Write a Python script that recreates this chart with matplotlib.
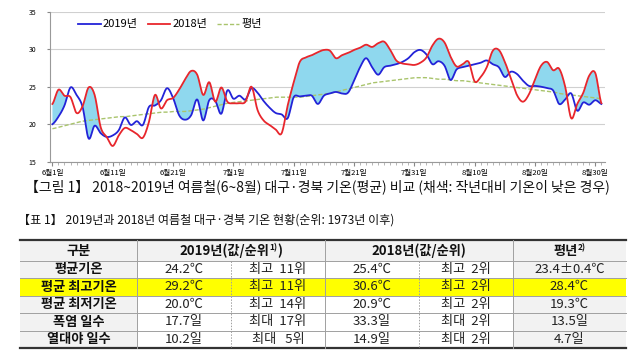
import numpy as np
import matplotlib
matplotlib.use('Agg')
import matplotlib.pyplot as plt
from matplotlib.lines import Line2D
from matplotlib.patches import Rectangle

plt.rcParams['font.family'] = ['Noto Sans CJK KR', 'DejaVu Sans']

#%% data (daily mean temperature, Jun 1 - Aug 31)

t2019 = [20.0, 21.0, 22.5, 24.9, 23.9, 22.3, 18.1, 19.8, 18.8, 18.3,
         18.5, 19.2, 20.9, 19.9, 20.4, 19.9, 22.3, 22.5, 23.2, 24.8,
         23.5, 21.2, 20.6, 21.2, 23.3, 20.5, 23.2, 23.1, 21.4, 24.5,
         23.4, 23.8, 23.3, 24.8, 24.2, 23.1, 22.2, 21.5, 21.3, 20.8,
         23.6, 23.7, 23.8, 23.8, 22.7, 23.8, 24.1, 24.3, 24.1, 24.2,
         25.8, 27.6, 28.8, 27.6, 26.6, 27.6, 27.8, 28.0, 28.3, 28.8,
         29.6, 29.9, 29.3, 28.0, 28.4, 27.8, 25.9, 27.3, 27.6, 27.8,
         28.0, 28.2, 28.5, 28.0, 27.6, 26.3, 27.0, 26.7, 25.8, 25.1,
         25.1, 25.0, 24.8, 24.5, 22.7, 23.3, 24.1, 21.8, 22.9, 22.6,
         23.2, 22.7]

t2018 = [22.7, 24.6, 23.8, 23.6, 21.5, 22.4, 24.9, 23.9, 19.6, 18.3,
         17.1, 18.5, 19.5, 19.2, 18.7, 18.2, 20.3, 23.9, 22.1, 23.2,
         23.5, 24.6, 26.0, 27.1, 26.6, 23.9, 25.6, 23.0, 24.9, 23.0,
         22.8, 22.8, 23.0, 25.0, 21.9, 20.5, 19.9, 19.3, 18.8, 22.5,
         25.6, 28.3, 28.9, 29.2, 29.6, 29.9, 29.8, 28.8, 29.2, 29.5,
         29.9, 30.2, 30.6, 30.3, 30.8, 31.0, 29.9, 28.5, 28.1, 28.0,
         27.9, 28.2, 28.9, 30.5, 31.4, 30.9, 29.0, 27.7, 28.0, 28.3,
         25.7, 26.3, 27.6, 29.8, 29.9, 28.3, 26.1, 23.9, 23.0, 24.0,
         26.0, 27.8, 28.3, 27.2, 27.4, 25.0, 20.8, 22.7, 24.2, 26.5,
         26.8, 22.8]

normal = [19.4, 19.6, 19.8, 20.0, 20.2, 20.4, 20.5, 20.6, 20.7, 20.8,
          20.9, 21.0, 21.0, 21.1, 21.2, 21.3, 21.4, 21.5, 21.6, 21.6,
          21.7, 21.7, 21.7, 21.8, 21.9, 22.0, 22.2, 22.4, 22.6, 22.8,
          22.9, 23.0, 23.1, 23.2, 23.3, 23.4, 23.5, 23.6, 23.6, 23.6,
          23.6, 23.6, 23.7, 23.8, 23.9, 24.0, 24.1, 24.3, 24.5, 24.7,
          24.9, 25.1, 25.3, 25.5, 25.6, 25.7, 25.8, 25.9, 26.0, 26.1,
          26.2, 26.2, 26.2, 26.1, 26.0, 26.0, 25.9, 25.8, 25.8, 25.7,
          25.6, 25.5, 25.4, 25.3, 25.2, 25.1, 25.0, 24.9, 24.8, 24.7,
          24.6, 24.5, 24.4, 24.3, 24.1, 24.0, 23.9, 23.8, 23.7, 23.6,
          23.5, 23.4]

xlabels = ['6월1일', '6월11일', '6월21일', '7월1일', '7월11일',
           '7월21일', '7월31일', '8월10일', '8월20일', '8월30일']

caption = '【그림 1】 2018~2019년 여름철(6~8월) 대구·경북 기온(평균) 비교 (채색: 작년대비 기온이 낮은 경우)'
tab_title = '【표 1】 2019년과 2018년 여름철 대구·경북 기온 현황(순위: 1973년 이후)'

row_names = ['평균기온', '평균 최고기온', '평균 최저기온', '폭염 일수', '열대야 일수']
val2019 = ['24.2℃', '29.2℃', '20.0℃', '17.7일', '10.2일']
rank2019 = ['최고  11위', '최고  11위', '최고  14위', '최대  17위', '최대   5위']
val2018 = ['25.4℃', '30.6℃', '20.9℃', '33.3일', '14.9일']
rank2018 = ['최고  2위', '최고  2위', '최고  2위', '최대  2위', '최대  2위']
val_normal = ['23.4±0.4℃', '28.4℃', '19.3℃', '13.5일', '4.7일']


def smooth(y, n=12):
    # catmull-rom like the excel smoothed line
    y = np.asarray(y, float)
    p = np.concatenate([[y[0]], y, [y[-1]]])
    xs, ys = [], []
    t = np.linspace(0, 1, n, endpoint=False)
    for i in range(len(y) - 1):
        p0, p1, p2, p3 = p[i], p[i+1], p[i+2], p[i+3]
        yy = 0.5*(2*p1 + (-p0+p2)*t + (2*p0-5*p1+4*p2-p3)*t**2 + (-p0+3*p1-3*p2+p3)*t**3)
        xs.append(i + t)
        ys.append(yy)
    xs.append([len(y)-1])
    ys.append([y[-1]])
    return np.concatenate(xs), np.concatenate(ys)


fig = plt.figure(figsize=(6.4, 3.6), dpi=100)

#%% chart
ax = fig.add_axes([50/640, 1-161.7/360, 555/640, 150/360])
x19, y19 = smooth(t2019)
x18, y18 = smooth(t2018)
xn, yn = smooth(normal)

ax.fill_between(x19, y19, y18, where=y18 > y19, interpolate=True,
                color='#8fd8ee', lw=0, zorder=1)
ax.plot(xn, yn, color='#a9c46c', lw=1.0, ls=(0, (3, 1.5)), zorder=2)
ax.plot(x19, y19, color='#2323d8', lw=1.3, zorder=3)
ax.plot(x18, y18, color='#e8262c', lw=1.3, zorder=4)

ax.set_xlim(-0.4, 91.6)
ax.set_ylim(15, 35)
ax.set_yticks([15, 20, 25, 30, 35])
ax.tick_params(axis='y', labelsize=5, length=2, color='#888888', pad=8)
ax.set_xticks(np.arange(0, 91, 10))
ax.set_xticklabels(xlabels)
ax.set_xticks(np.arange(0, 92), minor=True)
ax.tick_params(axis='x', which='major', labelsize=5.5, length=3, color='#888888', pad=2)
ax.tick_params(axis='x', which='minor', length=2, color='#aaaaaa')
ax.grid(axis='y', color='#d0d0d0', lw=0.8)
ax.set_axisbelow(True)
for s in ['top', 'right']:
    ax.spines[s].set_visible(False)
for s in ['left', 'bottom']:
    ax.spines[s].set_color('#999999')
    ax.spines[s].set_linewidth(0.8)

handles = [Line2D([], [], color='#2323d8', lw=1.3),
           Line2D([], [], color='#e8262c', lw=1.3),
           Line2D([], [], color='#a9c46c', lw=1.0, ls=(0, (3, 1.5)))]
ax.legend(handles, ['2019년', '2018년', '평년'], loc='center left',
          bbox_to_anchor=(0.041, 0.915), ncol=3, frameon=False, fontsize=8,
          handlelength=2.0, handletextpad=0.2, columnspacing=0.9, borderpad=0)

#%% captions
fig.text(25/640, 1-187/360, caption, fontsize=10, va='center', ha='left', color='#111111')
fig.text(18/640, 1-220/360, tab_title, fontsize=8.7, va='center', ha='left', color='#111111')

#%% table
tx = fig.add_axes([0, 0, 1, 1])
tx.set_xlim(0, 640)
tx.set_ylim(360, 0)
tx.axis('off')

cols = [20, 137, 231, 325, 419, 513, 626]
rows = [240, 261, 278, 295.5, 313, 330.5, 348]
gray = '#f2f2f2'

# backgrounds
tx.add_patch(Rectangle((cols[0], rows[0]), cols[-1]-cols[0], rows[1]-rows[0], color=gray, lw=0))
for i in range(5):
    y0, y1 = rows[i+1], rows[i+2]
    if i == 1:
        tx.add_patch(Rectangle((cols[0], y0), cols[-1]-cols[0], y1-y0, color='#ffff00', lw=0))
    else:
        tx.add_patch(Rectangle((cols[0], y0), cols[1]-cols[0], y1-y0, color=gray, lw=0))
        tx.add_patch(Rectangle((cols[5], y0), cols[6]-cols[5], y1-y0, color=gray, lw=0))

# lines
tx.plot([cols[0], cols[-1]], [rows[0], rows[0]], color='#333333', lw=1.6)
tx.plot([cols[0], cols[-1]], [rows[-1], rows[-1]], color='#333333', lw=1.6)
for r in rows[1:-1]:
    tx.plot([cols[0], cols[-1]], [r, r], color='#a0a0a0', lw=0.7)
for c in [cols[1], cols[3], cols[5]]:
    tx.plot([c, c], [rows[0], rows[-1]], color='#a0a0a0', lw=0.7)
for c in [cols[2], cols[4]]:
    tx.plot([c, c], [rows[1], rows[-1]], color='#a0a0a0', lw=0.7, ls=(0, (1.5, 1.5)))

fs = 9.5
rend = fig.canvas.get_renderer()


def mixed(xc, yc, parts):
    # parts: (text, size, raise in px)
    widths = []
    for s, size, dy in parts:
        t = tx.text(0, 0, s, fontsize=size, fontweight='bold')
        widths.append(t.get_window_extent(rend).width)
        t.remove()
    x = xc - sum(widths)/2
    for (s, size, dy), w in zip(parts, widths):
        tx.text(x, yc - dy, s, fontsize=size, fontweight='bold', ha='left', va='center', color='#111111')
        x += w


ym = (rows[0] + rows[1]) / 2
mixed((cols[0]+cols[1])/2, ym, [('구분', fs, 0)])
mixed((cols[1]+cols[3])/2, ym, [('2019년(값/순위', fs, 0), ('1)', 6, 3), (')', fs, 0)])
mixed((cols[3]+cols[5])/2, ym, [('2018년(값/순위)', fs, 0)])
mixed((cols[5]+cols[6])/2, ym, [('평년', fs, 0), ('2)', 6, 3)])

for i in range(5):
    yc = (rows[i+1] + rows[i+2]) / 2
    tx.text((cols[0]+cols[1])/2, yc, row_names[i], fontsize=fs, fontweight='bold',
            ha='center', va='center', color='#111111')
    cells = [val2019[i], rank2019[i], val2018[i], rank2018[i], val_normal[i]]
    for j, s in enumerate(cells):
        tx.text((cols[j+1]+cols[j+2])/2, yc, s, fontsize=fs, ha='center', va='center',
                color='#222222')

fig.savefig('out.png', dpi=100)
